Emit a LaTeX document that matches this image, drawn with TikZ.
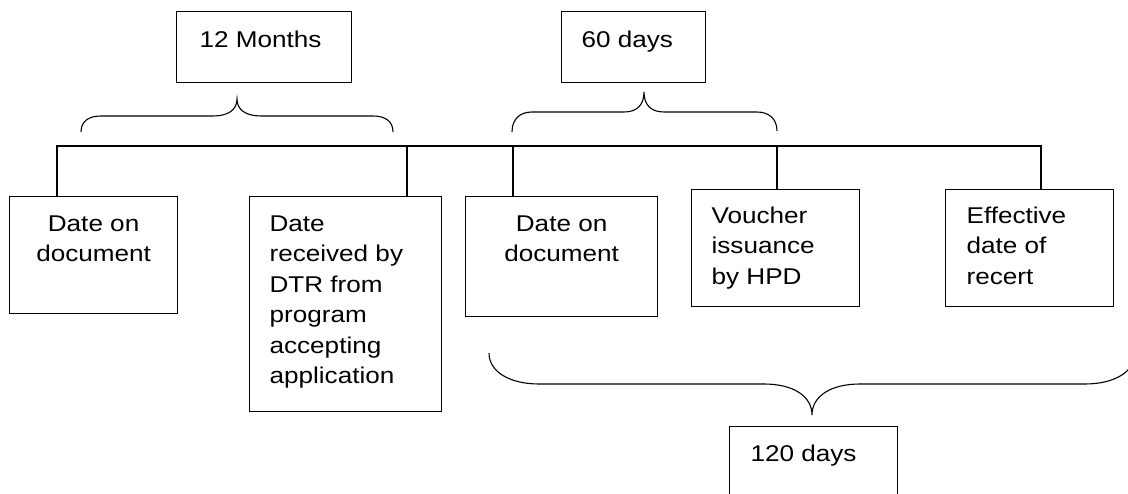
\documentclass[tikz,border=0pt]{standalone}
\usepackage{fontspec}
\setmainfont{Liberation Sans}[FakeStretch=1.145]
\newcommand\boxtxt[3]{\parbox[t][#2][t]{#1}{#3}}
\begin{document}
\begin{tikzpicture}[x=1pt,y=-1pt,line width=1.2pt,
  box/.style={draw, rectangle, inner xsep=20pt, inner ysep=19pt, anchor=north west,
    font=\fontsize{22.8}{30.5}\selectfont},
  brace/.style={line width=1.1pt}]
\useasboundingbox (0,0) rectangle (1128,494);
\clip (0,0) rectangle (1128,494);
% top boxes
\node[box, inner xsep=23pt] (m12) at (176,11) {\boxtxt{129pt}{33pt}{12 Months}};
\node[box] (d60) at (561,11) {\boxtxt{104pt}{33pt}{60 days}};
% lower boxes
\node[box, inner xsep=8pt] (b1) at (9,196) {\boxtxt{152pt}{79pt}{\centering Date on\\document}};
\node[box] (b2) at (249,196) {\boxtxt{152pt}{177pt}{Date\\received by\\DTR from\\program\\accepting\\application}};
\node[box, inner xsep=8pt] (b3) at (465,196) {\boxtxt{176pt}{82pt}{\centering Date on\\document}};
\node[box, inner ysep=17pt] (b4) at (691,189) {\boxtxt{128pt}{83pt}{Voucher\\issuance\\by HPD}};
\node[box, inner ysep=17pt, inner xsep=21pt] (b5) at (945,189) {\boxtxt{126pt}{83pt}{Effective\\date of\\recert}};
\node[box, inner ysep=18pt, inner xsep=21pt] (d120) at (729,426) {\boxtxt{126pt}{36pt}{120 days}};
% bus and drops
\coordinate (j1) at (57,146);
\coordinate (j2) at (407,146);
\coordinate (j3) at (513,146);
\coordinate (j4) at (777,146);
\coordinate (j5) at (1041,146);
\draw (b1.north -| j1) -- (j1) -- (j5) -- (b5.north -| j5);
\draw (j2) -- (b2.north -| j2);
\draw (j3) -- (b3.north -| j3);
\draw (j4) -- (b4.north -| j4);
% braces
\draw[brace] (81,132) .. controls (81,121) and (89,116) .. (101,116) -- (213,116)
  .. controls (228,116) and (237,110) .. (237,99)
  .. controls (237,110) and (246,116) .. (261,116) -- (373,116)
  .. controls (385,116) and (393,121) .. (393,132);
\draw[brace] (512,132) .. controls (512,119) and (520,112) .. (532,112) -- (624,112)
  .. controls (637,112) and (644,105) .. (644,92)
  .. controls (644,105) and (651,112) .. (664,112) -- (757,112)
  .. controls (769,112) and (777,119) .. (777,131);
\draw[brace] (489,353) .. controls (489,372) and (510,384) .. (539,384) -- (764,384)
  .. controls (793,384) and (812,396) .. (812,415)
  .. controls (812,396) and (831,384) .. (860,384) -- (1085,384)
  .. controls (1114,384) and (1135,372) .. (1135,353);
\end{tikzpicture}
\end{document}
